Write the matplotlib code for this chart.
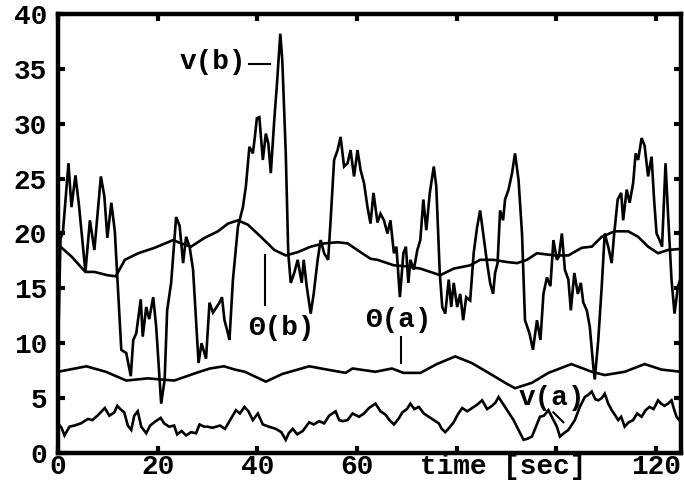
import numpy as np
import matplotlib
matplotlib.use("Agg")
import matplotlib.pyplot as plt

# speed traces v and angle traces Theta for two runs (a) and (b)
vb_t = [0.0, 0.5, 1.0, 2.1, 2.7, 3.5, 4.2, 5.5, 6.4, 7.3, 8.6, 9.3, 9.9, 10.7, 11.4,
        12.7, 13.7, 14.6, 15.1, 15.7, 16.6, 17.0, 17.7, 18.3, 19.1, 19.7, 20.7, 21.4,
        21.9, 22.7, 23.7, 24.4, 25.1, 25.7, 26.4, 27.1, 28.2, 28.8, 29.7, 30.4, 31.1,
        32.4, 32.9, 33.4, 34.1, 34.4, 35.1, 36.1, 37.1, 37.7, 38.4, 39.1, 39.5, 39.9,
        40.4, 41.1, 41.7, 42.2, 42.7, 43.4, 43.9, 44.6, 45.0, 45.7, 46.2, 46.7, 47.4,
        48.1, 48.9, 49.3, 49.9, 50.7, 51.3, 52.1, 52.7, 53.4, 54.2, 54.7, 55.4, 56.1,
        56.7, 57.4, 58.1, 58.7, 59.4, 60.1, 60.7, 61.4, 62.1, 62.7, 63.3, 64.1, 64.7,
        65.4, 66.1, 66.7, 67.4, 67.9, 68.6, 69.3, 69.8, 70.3, 70.7, 71.4, 72.1, 72.7,
        73.3, 73.9, 74.6, 75.4, 75.9, 76.6, 77.1, 77.7, 78.4, 78.9, 79.4, 80.1, 80.7,
        81.3, 81.9, 82.7, 83.4, 84.1, 84.7, 85.4, 86.1, 86.7, 87.3, 87.7, 88.2, 88.7,
        89.3, 89.7, 90.4, 91.1, 91.7, 92.4, 93.1, 93.7, 94.6, 95.3, 96.1, 96.8, 97.4,
        98.1, 98.8, 99.4, 100.1, 100.5, 101.1, 101.7, 102.4, 102.9, 103.6, 104.3, 104.9,
        105.4, 106.1, 106.7, 107.4, 107.7, 108.4, 109.1, 109.7, 110.4, 111.1, 111.6,
        112.3, 113.0, 113.4, 114.1, 114.7, 115.4, 115.9, 116.4, 117.1, 117.7, 118.4,
        119.1, 119.6, 120.1, 120.7, 121.2, 121.9, 122.4, 123.1, 123.7, 124.4, 125.0]
vb_v = [9.0, 19.5, 20.2, 26.4, 22.4, 25.3, 22.6, 16.5, 21.2, 18.5, 25.2, 23.4, 19.6, 22.8, 20.2,
        9.4, 9.1, 7.0, 10.3, 10.9, 14.0, 10.6, 13.3, 12.2, 14.2, 11.5, 4.5, 6.7,
        13.0, 15.5, 21.5, 20.7, 17.3, 19.7, 18.8, 16.7, 8.2, 10.0, 8.6, 13.7, 12.8,
        13.7, 14.2, 12.1, 10.9, 10.3, 15.8, 20.6, 22.4, 24.3, 27.9, 27.3, 28.8, 30.5,
        30.6, 26.7, 29.1, 28.2, 25.5, 30.4, 33.4, 38.2, 35.8, 27.3, 18.2, 15.5, 16.4,
        17.6, 15.5, 17.6, 15.2, 12.7, 14.5, 17.6, 19.4, 18.2, 17.6, 21.2, 26.7, 27.6,
        28.8, 26.1, 26.4, 27.6, 25.2, 27.6, 25.8, 24.6, 22.4, 20.9, 23.7, 21.0, 21.8,
        21.2, 20.0, 21.2, 18.2, 18.8, 14.2, 18.2, 18.8, 15.5, 17.6, 16.7, 18.5, 19.4,
        23.1, 20.3, 23.7, 26.1, 24.3, 16.4, 13.3, 12.7, 15.8, 13.3, 15.5, 13.3, 14.5,
        12.1, 14.2, 13.9, 18.2, 20.6, 22.1, 19.7, 17.3, 15.5, 14.5, 16.4, 17.3, 22.1,
        21.2, 23.1, 24.0, 25.5, 27.3, 24.9, 20.0, 12.1, 10.9, 9.4, 12.1, 10.3, 14.5,
        16.0, 15.2, 19.4, 17.6, 17.9, 20.0, 16.7, 15.8, 13.0, 16.4, 14.5, 15.5,
        13.7, 13.0, 11.5, 7.9, 6.7, 10.3, 15.2, 20.0, 18.8, 17.3, 20.0,
        23.1, 23.7, 21.2, 24.0, 22.8, 24.6, 27.3, 26.7, 28.7, 28.0, 25.2,
        27.0, 23.1, 20.0, 19.4, 18.8, 26.4, 21.8, 15.8, 12.7, 15.2, 16.0]

thb_t = [0, 2.7, 5.5, 7.3, 9.9, 11.6, 13.4, 16.1, 19.4, 23.1, 24.7, 26.7, 29.4, 32.1,
         34.1, 36.1, 38.1, 40.7, 43.4, 45.7, 48.1, 50.7, 53.4, 56.1, 58.1, 60.7, 62.7,
         64.1, 67.4, 70.1, 72.7, 74.7, 76.7, 79.4, 82.7, 84.7, 87.4, 90.1, 92.1, 94.1,
         96.1, 99.7, 102.4, 105.1, 107.1, 109.1, 111.7, 114.4, 116.4, 118.4, 120.4,
         122.4, 125]
thb_v = [19.0, 17.9, 16.5, 16.5, 16.2, 16.1, 17.6, 18.2, 18.7, 19.4, 19.1, 18.8, 19.6, 20.2,
         20.9, 21.2, 20.8, 19.7, 18.5, 18.0, 18.3, 18.8, 19.1, 19.2, 19.1, 18.3, 17.7,
         17.6, 17.1, 17.0, 16.8, 16.5, 16.2, 16.8, 17.1, 17.6, 17.6, 17.4, 17.3, 17.6,
         18.2, 18.0, 18.0, 18.7, 18.8, 19.7, 20.2, 20.2, 19.7, 18.8, 18.2,
         18.5, 18.6]

tha_t = [0, 5.7, 9.6, 13.7, 18.0, 23.3, 28.4, 30.5, 33.3, 35.5, 37.5, 41.7, 45.0, 50.4,
         54.0, 57.7, 59.1, 63.7, 67.0, 69.3, 72.7, 76.0, 79.7, 83.0, 86.4, 89.7, 91.7,
         95.1, 98.4, 103.0, 107.1, 109.7, 113.7, 117.7, 121.1, 125]
tha_v = [7.4, 7.9, 7.4, 6.6, 6.8, 6.6, 7.4, 7.7, 7.9, 7.6, 7.4, 6.5, 7.2, 7.9,
         7.6, 7.3, 7.7, 7.4, 7.7, 7.3, 7.3, 8.1, 8.8, 8.2, 7.3, 6.4, 5.9,
         6.4, 7.3, 8.1, 7.4, 7.1, 7.4, 8.1, 7.6, 7.4]

va_t = [0, 0.7, 1.3, 2.3, 3.3, 4.6, 6.0, 6.9, 7.9, 9.4, 10.3, 11.3, 11.9, 12.5, 13.3,
        14.0, 14.7, 15.3, 16.0, 16.7, 17.7, 18.5, 19.3, 20.6, 21.3, 22.3, 23.3, 23.9,
        24.8, 25.7, 26.7, 27.7, 28.4, 29.3, 30.0, 31.0, 32.5, 33.5, 34.4, 35.7, 36.5,
        37.4, 38.2, 39.1, 40.1, 41.1, 42.3, 43.7, 44.8, 45.7, 46.3, 47.1, 48.0, 49.1,
        50.4, 51.3, 52.4, 53.4, 54.4, 55.7, 56.4, 57.1, 58.1, 59.1, 60.4, 61.4, 62.4,
        63.7, 64.7, 65.7, 66.5, 67.4, 68.3, 69.1, 70.0, 70.7, 71.5, 72.4, 73.4, 74.4,
        75.4, 76.4, 77.0, 77.7, 78.5, 79.4, 80.2, 81.1, 82.1, 83.1, 84.1, 85.1, 86.1,
        87.1, 87.8, 88.4, 89.4, 90.4, 91.4, 92.4, 93.4, 94.2, 95.1, 96.0, 96.7, 97.5,
        98.4, 99.2, 100.1, 100.7, 101.5, 102.4, 103.7, 104.7, 105.7, 106.4, 107.1,
        107.8, 108.4, 109.1, 109.7, 110.4, 111.1, 111.7, 112.4, 113.0, 113.7, 114.5,
        115.4, 116.2, 117.1, 117.9, 118.7, 119.5, 120.4, 121.0, 121.7, 122.4, 123.1,
        123.6, 124.1, 125.0]
va_v = [2.7, 2.3, 1.6, 2.4, 2.5, 2.7, 3.1, 3.0, 3.4, 4.1, 3.4, 3.7, 4.3, 4.0, 3.7,
        2.5, 2.1, 3.4, 3.8, 2.4, 1.8, 2.5, 2.8, 3.2, 2.7, 2.4, 2.5, 1.7,
        2.0, 1.6, 1.9, 1.8, 2.6, 2.4, 2.4, 2.3, 2.5, 2.2, 2.9, 3.9, 3.6,
        4.2, 3.8, 3.0, 3.6, 2.6, 2.4, 2.2, 1.9, 1.2, 1.8, 2.2, 1.7, 2.0,
        2.8, 2.6, 2.9, 2.7, 3.4, 3.8, 3.0, 2.9, 3.0, 3.6, 3.3, 3.6, 4.1,
        4.5, 3.8, 3.5, 3.0, 2.6, 3.1, 3.7, 4.0, 4.5, 4.0, 4.2, 3.6, 3.3,
        3.0, 2.7, 2.2, 1.9, 2.3, 2.8, 3.5, 4.1, 3.8, 4.1, 4.4, 4.8, 4.0,
        4.3, 4.6, 5.1, 4.4, 3.7, 3.0, 2.1, 1.2, 1.3, 1.5, 2.5, 3.3, 3.4,
        3.9, 3.2, 2.4, 1.5, 1.8, 2.1, 3.0, 4.2, 5.1, 5.3, 5.6,
        4.9, 4.8, 5.0, 5.4, 4.5, 3.9, 3.5, 3.0, 3.3, 2.4, 2.8,
        3.0, 3.6, 3.3, 3.9, 4.2, 4.0, 4.8, 4.5, 4.3, 4.5, 4.8,
        4.0, 3.3, 2.8]

x_ticks = [0, 20, 40, 60, 80, 100, 120]
x_labels = ["0", "20", "40", "60", "", "", "120"]
y_ticks = [0, 5, 10, 15, 20, 25, 30, 35, 40]

FONT = "Liberation Mono"
FS = 20

fig = plt.figure(figsize=(6.84, 4.91), dpi=100)
ax = fig.add_axes([0.0848, 0.0774, 0.9108, 0.8941])

lw = 1.9
for t, v in [(vb_t, vb_v), (thb_t, thb_v), (tha_t, tha_v), (va_t, va_v)]:
    ax.plot(t, v, color="black", lw=lw, solid_joinstyle="miter")

ax.set_xlim(0, 125)
ax.set_ylim(0, 40)

for s in ax.spines.values():
    s.set_linewidth(3.2)

ax.set_xticks(x_ticks)
ax.set_xticklabels(x_labels)
ax.set_yticks(y_ticks)
# axis title goes in the empty slot between 60 and 120
ax.set_xticks([89.3], minor=True)
ax.set_xticklabels(["time [sec]"], minor=True)
ax.tick_params(which="major", direction="in", length=5, width=3, top=True, right=True)
ax.tick_params(axis="x", which="minor", length=0)
ax.tick_params(axis="x", which="both", pad=1)
ax.tick_params(axis="y", pad=8)
for lab in ax.get_xticklabels(which="both") + ax.get_yticklabels():
    lab.set_fontfamily(FONT)
    lab.set_fontsize(FS)
    lab.set_fontweight("bold")

txt = dict(fontfamily=FONT, fontsize=FS, fontweight="bold", color="black")
ax.text(37.8, 35.6, "v(b)", ha="right", va="center", **txt)
ax.plot([38.4, 42.6], [35.4, 35.4], color="black", lw=1.5)
ax.text(44.9, 11.4, "\u0398(b)", ha="center", va="center", **txt)
ax.plot([41.6, 41.6], [13.5, 18.0], color="black", lw=1.5)
ax.text(68.3, 12.1, "\u0398(a)", ha="center", va="center", **txt)
ax.plot([68.9, 68.9], [8.2, 10.6], color="black", lw=1.5)
ax.text(99.0, 5.0, "v(a)", ha="center", va="center", **txt)
ax.plot([99.4, 101.4], [3.7, 2.8], color="black", lw=1.5)

fig.savefig("out.png", dpi=100)
